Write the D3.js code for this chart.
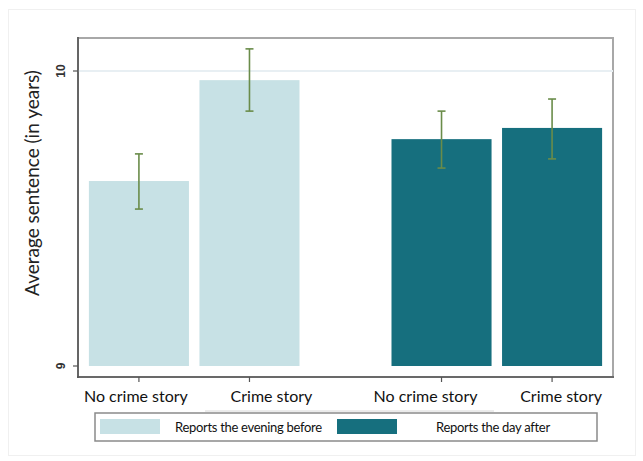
<!DOCTYPE html>
<html><head><meta charset="utf-8">
<script src="https://cdn.jsdelivr.net/npm/d3@7"></script>
<style>body{margin:0;background:#fff}svg{display:block}</style>
</head><body><svg id="c" width="643" height="461"></svg>
<script>
const groups = ["Reports the evening before", "Reports the day after"];
const categories = ["No crime story", "Crime story"];
const means = [[9.627, 9.969], [9.769, 9.807]];
const ciLow = [[9.532, 9.864], [9.671, 9.702]];
const ciHigh = [[9.719, 10.075], [9.864, 9.905]];
const yTicks = [9, 10];
const colors = ["#c7e1e5", "#166f7e"];

const svg = d3.select("#c");
const L = 78, R = 613, T = 38, B = 377;
const labelShift = [-3, 22, -16, 9];
const y = d3.scaleLinear().domain([9, 10]).range([366, 71]);
const xg = d3.scaleBand().domain(groups).range([L, R]).paddingInner(0.304).paddingOuter(0.036);
const xc = d3.scaleBand().domain(categories).range([0, xg.bandwidth()]).paddingInner(0.095).paddingOuter(0);

// outer faint frame
svg.append("rect").attr("x", 8.5).attr("y", 9.5).attr("width", 627).attr("height", 446)
  .attr("fill", "none").attr("stroke", "#f0f0f0");

// plot frame
svg.append("rect").attr("x", L).attr("y", T).attr("width", R - L).attr("height", B - T)
  .attr("fill", "#fff").attr("stroke", "#a8a8a8").attr("stroke-width", 2);

// gridlines
svg.append("g").selectAll("line").data(yTicks.filter(t => t !== 9)).join("line")
  .attr("x1", L).attr("x2", R).attr("y1", d => y(d)).attr("y2", d => y(d))
  .attr("stroke", "#e8eff3").attr("stroke-width", 2);

const rows = [];
groups.forEach((g, gi) => categories.forEach((c, ci) => rows.push({g, gi, c, ci,
  m: means[gi][ci], lo: ciLow[gi][ci], hi: ciHigh[gi][ci]})));

// bars
svg.append("g").selectAll("rect").data(rows).join("rect")
  .attr("x", d => xg(d.g) + xc(d.c)).attr("width", xc.bandwidth())
  .attr("y", d => y(d.m)).attr("height", d => y(9) - y(d.m))
  .attr("fill", d => colors[d.gi]);

// error bars
const eb = svg.append("g").attr("stroke", "#6a8c4a").attr("stroke-width", 1.6).attr("fill", "none");
const cx = d => xg(d.g) + xc(d.c) + xc.bandwidth() / 2;
eb.selectAll(".v").data(rows).join("line").attr("x1", cx).attr("x2", cx)
  .attr("y1", d => y(d.hi)).attr("y2", d => y(d.lo));
eb.selectAll(".t").data(rows).join("line").attr("x1", d => cx(d) - 4).attr("x2", d => cx(d) + 4)
  .attr("y1", d => y(d.hi)).attr("y2", d => y(d.hi));
eb.selectAll(".b").data(rows).join("line").attr("x1", d => cx(d) - 4).attr("x2", d => cx(d) + 4)
  .attr("y1", d => y(d.lo)).attr("y2", d => y(d.lo));

// axes lines
svg.append("line").attr("x1", L).attr("x2", L).attr("y1", T - 1).attr("y2", B + 1)
  .attr("stroke", "#555").attr("stroke-width", 1.6);
svg.append("line").attr("x1", L - 1).attr("x2", R + 1).attr("y1", B).attr("y2", B)
  .attr("stroke", "#555").attr("stroke-width", 1.6);

// y ticks
const yt = svg.append("g");
yt.selectAll("line").data(yTicks).join("line").attr("x1", L - 5).attr("x2", L)
  .attr("y1", d => y(d)).attr("y2", d => y(d)).attr("stroke", "#555").attr("stroke-width", 1.2);
yt.selectAll("text").data(yTicks).join("text")
  .attr("transform", d => `translate(${L - 13},${y(d)}) rotate(-90)`)
  .attr("text-anchor", "middle").attr("font-family", "Liberation Sans, Arial, sans-serif")
  .attr("font-size", 12).attr("font-weight", "bold").attr("fill", "#333").text(d => d);

// x ticks & labels
const xt = svg.append("g");
xt.selectAll("line").data(rows).join("line").attr("x1", cx).attr("x2", cx)
  .attr("y1", B).attr("y2", B + 5).attr("stroke", "#555").attr("stroke-width", 1.2);
xt.selectAll("text").data(rows).join("text").attr("x", (d, i) => cx(d) + labelShift[i]).attr("y", B + 25)
  .attr("text-anchor", "middle").attr("font-family", "Lato, sans-serif")
  .attr("font-size", 16).attr("fill", "#111").text(d => d.c);

// faint separators under labels
svg.append("line").attr("x1", 205).attr("x2", 340).attr("y1", 411).attr("y2", 411).attr("stroke", "#d8d8d8");
svg.append("line").attr("x1", 340).attr("x2", 494).attr("y1", 411).attr("y2", 411).attr("stroke", "#d8d8d8");

// y title
svg.append("text").attr("transform", `translate(39,183) rotate(-90)`)
  .attr("text-anchor", "middle").attr("font-family", "Lato, sans-serif")
  .attr("font-size", 19).attr("fill", "#222").text("Average sentence (in years)");

// legend
const lg = svg.append("g");
lg.append("rect").attr("x", 95).attr("y", 413).attr("width", 502).attr("height", 28)
  .attr("fill", "#fff").attr("stroke", "#8a8a8a").attr("stroke-width", 1.5);
const lx = [[100, 175], [337, 436]];
groups.forEach((g, i) => {
  lg.append("rect").attr("x", lx[i][0]).attr("y", 419).attr("width", 60).attr("height", 15).attr("fill", colors[i]);
  lg.append("text").attr("x", lx[i][1]).attr("y", 432).attr("font-family", "Lato, sans-serif")
    .attr("font-size", 13).attr("letter-spacing", -0.3).attr("fill", "#111").text(g);
});
</script></body></html>
